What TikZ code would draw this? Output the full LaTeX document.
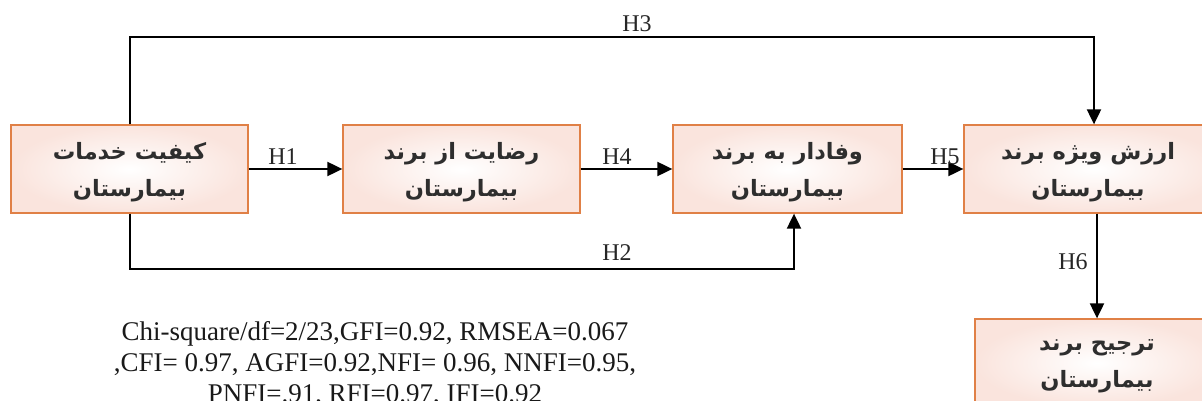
\documentclass[tikz,border=0pt]{standalone}
\usepackage{fontspec}
\setmainfont{Liberation Serif}
\newfontfamily\arabicfont[Script=Arabic]{DejaVu Sans}
\TeXXeTstate=1
\usetikzlibrary{arrows.meta}
\definecolor{boxdraw}{RGB}{224,128,70}
\definecolor{boxpink}{RGB}{250,228,221}
\tikzset{
  conbox/.style={rectangle, draw=boxdraw, line width=1.3pt, shading=radial,
    inner color=white, outer color=boxpink, minimum height=88pt},
  boxtext/.style={align=center, yshift=-3pt,
    font=\arabicfont\bfseries\fontsize{22.5}{37}\selectfont, text=black!82},
  conn/.style={line width=2pt, -{Triangle[length=15pt,width=14pt]}},
  hlab/.style={font=\fontsize{24}{26}\selectfont, text=black!85},
  stat/.style={font=\fontsize{27}{31}\selectfont, align=center, text=black!90}
}
\begin{document}
\begin{tikzpicture}[x=1pt,y=-1pt]
\useasboundingbox (0,0) rectangle (1202,401);
\clip (0,0) rectangle (1202,401);
\node[conbox, minimum width=237pt] (q) at (129.5,169) {};
\node[conbox, minimum width=237pt] (s) at (461.5,169) {};
\node[conbox, minimum width=229pt] (l) at (787.5,169) {};
\node[conbox, minimum width=260pt] (e) at (1094,169) {};
\node[conbox, minimum width=244pt] (p) at (1097,363) {};
\node[boxtext] (qt) at (q.center) {\beginR کیفیت خدمات\endR\\\beginR بیمارستان\endR};
\node[boxtext] (st) at (s.center) {\beginR رضایت از برند\endR\\\beginR بیمارستان\endR};
\node[boxtext] (lt) at (l.center) {\beginR وفادار به برند\endR\\\beginR بیمارستان\endR};
\node[boxtext] (et) at ([xshift=-6pt]e.center) {\beginR ارزش ویژه برند\endR\\\beginR بیمارستان\endR};
\node[boxtext] (pt) at (p.center) {\beginR ترجیح برند\endR\\\beginR بیمارستان\endR};
\coordinate (h3a) at (130,37.5);
\coordinate (h3b) at (1094,37.5);
\coordinate (h2a) at (130,269);
\coordinate (h2b) at (794,271);
\draw[conn] (q.east) -- (s.west);
\draw[conn] (s.east) -- (l.west);
\draw[conn] (l.east) -- (e.west);
\draw[conn] (q.north -| h3a) -- (h3a) -- (h3b) -- (e.north -| h3b);
\draw[conn] (q.south -| h2a) -- (h2a) -- (h2a -| h2b) -- (h2b |- l.south);
\draw[conn] (e.south -| p.north) -- (p.north);
\node[hlab] (t1) at (283,157) {H1};
\node[hlab] (t4) at (617,157) {H4};
\node[hlab] (t5) at (945,157) {H5};
\node[hlab] (t3) at (637,24) {H3};
\node[hlab] (t2) at (617,253) {H2};
\node[hlab] (t6) at (1073,262) {H6};
\node[stat] (stats) at (375,364) {Chi-square/df=2/23,GFI=0.92, RMSEA=0.067\\,CFI= 0.97, AGFI=0.92,NFI= 0.96, NNFI=0.95,\\PNFI=.91, RFI=0.97, IFI=0.92};
\end{tikzpicture}
\end{document}
